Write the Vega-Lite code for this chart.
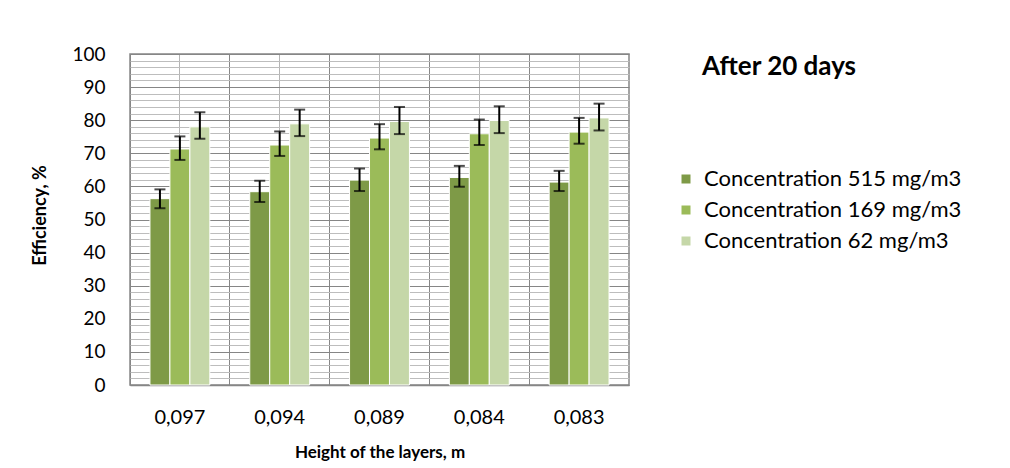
{
  "$schema": "https://vega.github.io/schema/vega-lite/v6.json",
  "width": 499,
  "height": 331,
  "autosize": {"type": "none"},
  "padding": {"left": 130, "top": 54, "right": 381, "bottom": 83},
  "background": "white",
  "config": {"font": "Lato", "view": {"stroke": "#868686", "strokeWidth": 1.5}},
  "title": {"text": "After 20 days", "anchor": "start", "frame": "group", "dx": 572, "dy": 48, "offset": 0, "baseline": "middle", "fontSize": 26, "fontWeight": "bold", "color": "black", "font": "Lato"},
  "data": {"values": [
    {"height": "0,097", "series": "Concentration 515 mg/m3", "value": 56.3, "lo": 53.4, "hi": 59.1},
    {"height": "0,097", "series": "Concentration 169 mg/m3", "value": 71.3, "lo": 68.0, "hi": 75.1},
    {"height": "0,097", "series": "Concentration 62 mg/m3", "value": 78.0, "lo": 74.4, "hi": 82.4},
    {"height": "0,094", "series": "Concentration 515 mg/m3", "value": 58.4, "lo": 55.3, "hi": 61.7},
    {"height": "0,094", "series": "Concentration 169 mg/m3", "value": 72.5, "lo": 69.2, "hi": 76.6},
    {"height": "0,094", "series": "Concentration 62 mg/m3", "value": 78.9, "lo": 75.2, "hi": 83.2},
    {"height": "0,089", "series": "Concentration 515 mg/m3", "value": 61.9, "lo": 58.6, "hi": 65.4},
    {"height": "0,089", "series": "Concentration 169 mg/m3", "value": 74.6, "lo": 71.2, "hi": 78.8},
    {"height": "0,089", "series": "Concentration 62 mg/m3", "value": 79.6, "lo": 75.8, "hi": 84.0},
    {"height": "0,084", "series": "Concentration 515 mg/m3", "value": 62.7, "lo": 59.9, "hi": 66.2},
    {"height": "0,084", "series": "Concentration 169 mg/m3", "value": 75.9, "lo": 72.5, "hi": 80.2},
    {"height": "0,084", "series": "Concentration 62 mg/m3", "value": 79.9, "lo": 76.1, "hi": 84.2},
    {"height": "0,083", "series": "Concentration 515 mg/m3", "value": 61.3, "lo": 58.6, "hi": 64.7},
    {"height": "0,083", "series": "Concentration 169 mg/m3", "value": 76.4, "lo": 72.9, "hi": 80.7},
    {"height": "0,083", "series": "Concentration 62 mg/m3", "value": 80.7, "lo": 76.9, "hi": 85.0}
  ]},
  "resolve": {"axis": {"x": "independent", "y": "independent"}},
  "layer": [
    {
      "mark": {"type": "bar", "stroke": "white", "strokeWidth": 1},
      "encoding": {
        "x": {"field": "height", "type": "nominal", "sort": null,
          "scale": {"paddingInner": 0, "paddingOuter": 0},
          "axis": {"orient": "bottom", "labelAngle": 0, "labelFontSize": 20, "labelColor": "black", "labelBaseline": "middle", "labelPadding": 32, "ticks": false, "tickSize": 0, "domainColor": "#868686", "domainWidth": 1.5, "grid": true, "gridColor": "#b4b4b4", "gridWidth": 1,
            "title": "Height of the layers, m", "titleFontSize": 17, "titleFontWeight": "bold", "titleColor": "black", "titleY": 67, "titleBaseline": "middle"}},
        "xOffset": {"field": "series", "type": "nominal", "sort": ["Concentration 515 mg/m3", "Concentration 169 mg/m3", "Concentration 62 mg/m3"], "scale": {"paddingInner": 0, "paddingOuter": 1.5}},
        "y": {"field": "value", "type": "quantitative",
          "scale": {"domain": [0, 100], "nice": false},
          "axis": {"values": [0,2,4,6,8,10,12,14,16,18,20,22,24,26,28,30,32,34,36,38,40,42,44,46,48,50,52,54,56,58,60,62,64,66,68,70,72,74,76,78,80,82,84,86,88,90,92,94,96,98,100],
            "labelExpr": "datum.value % 10 === 0 ? datum.label : ''",
            "gridColor": {"condition": {"test": "datum.value % 10 === 0", "value": "#868686"}, "value": "#bdbdbd"},
            "gridWidth": 1,
            "ticks": false, "tickSize": 0, "domain": false, "labelPadding": 25, "labelFontSize": 19, "labelColor": "black",
            "title": "Efficiency, %", "titleFontSize": 18, "titleFontWeight": "bold", "titleColor": "black", "titleAngle": -90, "titleX": -90, "titleY": 161, "titleAlign": "center", "titleBaseline": "middle"}},
        "color": {"field": "series", "type": "nominal",
          "scale": {"domain": ["Concentration 515 mg/m3", "Concentration 169 mg/m3", "Concentration 62 mg/m3"], "range": ["#7e9a47", "#9bbb59", "#c5d7a8"]},
          "legend": {"orient": "none", "legendX": 545, "legendY": 114, "title": null, "symbolType": "square", "symbolSize": 81, "symbolStrokeWidth": 0, "labelFontSize": 22, "labelColor": "black", "labelOffset": 7, "labelLimit": 400, "rowPadding": 9, "padding": 0}}
      }
    },
    {
      "mark": {"type": "rule", "color": "black", "strokeWidth": 2},
      "encoding": {
        "x": {"field": "height", "type": "nominal", "sort": null,
          "axis": {"orient": "top", "bandPosition": 0, "labels": false, "ticks": false, "domain": false, "grid": true, "gridColor": "#868686", "gridWidth": 1, "title": null}},
        "xOffset": {"field": "series", "type": "nominal", "sort": ["Concentration 515 mg/m3", "Concentration 169 mg/m3", "Concentration 62 mg/m3"]},
        "y": {"field": "lo", "type": "quantitative", "axis": null},
        "y2": {"field": "hi"}
      }
    },
    {
      "mark": {"type": "tick", "color": "black", "thickness": 2, "size": 11},
      "encoding": {
        "x": {"field": "height", "type": "nominal", "sort": null, "axis": null},
        "xOffset": {"field": "series", "type": "nominal", "sort": ["Concentration 515 mg/m3", "Concentration 169 mg/m3", "Concentration 62 mg/m3"]},
        "y": {"field": "lo", "type": "quantitative", "axis": null}
      }
    },
    {
      "mark": {"type": "tick", "color": "black", "thickness": 2, "size": 11},
      "encoding": {
        "x": {"field": "height", "type": "nominal", "sort": null, "axis": null},
        "xOffset": {"field": "series", "type": "nominal", "sort": ["Concentration 515 mg/m3", "Concentration 169 mg/m3", "Concentration 62 mg/m3"]},
        "y": {"field": "hi", "type": "quantitative", "axis": null}
      }
    }
  ]
}
